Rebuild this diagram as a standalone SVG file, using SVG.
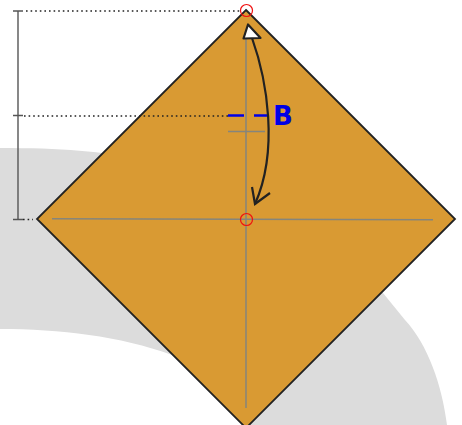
<svg xmlns="http://www.w3.org/2000/svg" width="462" height="425" viewBox="0 0 462 425">
<style>
.fold{stroke:#85857c;stroke-width:1.5;fill:none}
.dot{stroke:#222;stroke-width:1.4;stroke-dasharray:1.6 3;fill:none}
.dim{stroke:#555;stroke-width:1.4;fill:none}
.blue{stroke:#0000e6;stroke-width:2.4;fill:none}
.mark{stroke:#f01010;stroke-width:1.2;fill:none}
.arrow{stroke:#222;stroke-width:2.2;fill:none}
</style>
<path id="band" d="M0 148C60 148 105 151 140 160L383 293L405 320C428 345 442 385 447 425L250 425C235 395 200 372 172 355C120 336 60 329 0 329Z" fill="#dcdcdc"/>
<g id="paper">
<polygon points="246,10 455,219 246,428 37,219" fill="#d99a33" stroke="#222" stroke-width="1.8" stroke-linejoin="miter"/>
</g>
<g id="folds">
<path class="fold" d="M52 218.700L433 219.700"/>
<path class="fold" d="M246 38V408"/>
<path class="fold" d="M228 131.500H265"/>
</g>
<g id="connectors">
<path class="dot" d="M26 11H241"/>
<path class="dot" d="M24 116H228"/>
<path class="dot" d="M23 219.500H33"/>
<path class="dim" d="M18 11V219.500"/>
<path class="dim" d="M13 11H23M13 115.500H23M13 219.500H23"/>
<path class="blue" d="M228 115.500H244M254 115.500H268"/>
<path class="arrow" d="M252 38C267 80 279 150 255 204"/>
<path class="arrow" d="M252 187L255 204L270 193"/>
<polygon points="248,24.500 260.500,38 243.500,38.500" fill="#fff" stroke="#222" stroke-width="2.2" stroke-linejoin="round"/>
</g>
<g id="markers">
<circle class="mark" cx="246.500" cy="10.500" r="6"/>
<circle class="mark" cx="246.500" cy="219.500" r="6"/>
</g>
<g id="label"><text x="273" y="125" font-family="'DejaVu Sans',sans-serif" font-weight="700" font-size="26" fill="#0000e6">B</text></g>
</svg>
